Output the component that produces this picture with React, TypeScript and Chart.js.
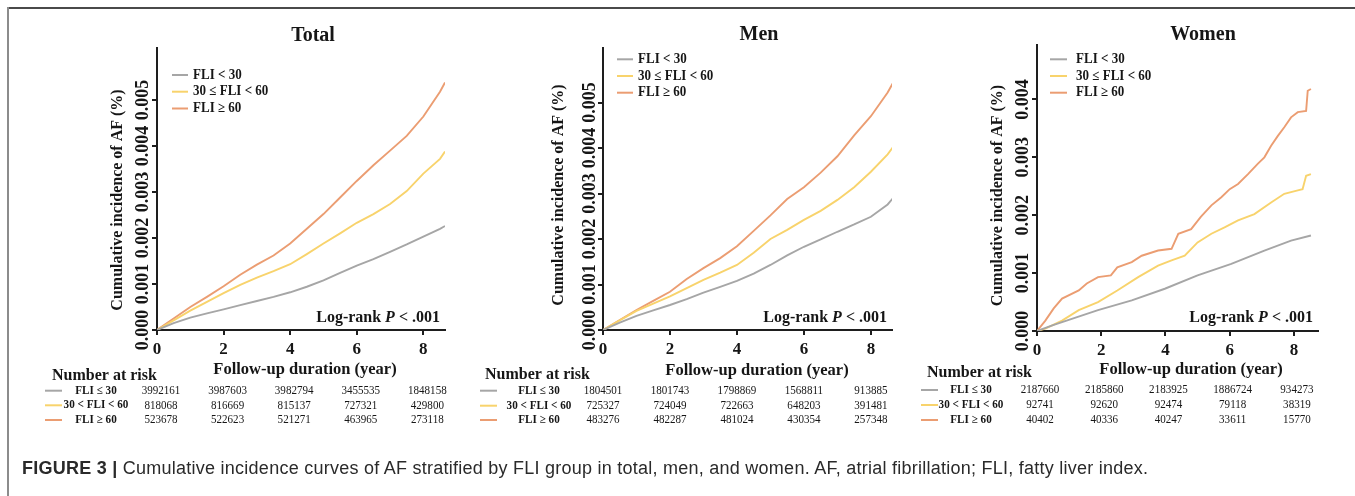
import React, { useEffect, useRef } from 'react';
import { Chart, registerables } from 'chart.js';

Chart.register(...registerables);

// ---------- data ----------
const GROUP_LABELS = ['FLI < 30', '30 ≤ FLI < 60', 'FLI ≥ 60'];
const RISK_LABELS = ['FLI ≤ 30', '30 < FLI < 60', 'FLI ≥ 60'];
const X_TICKS = [0, 2, 4, 6, 8];
const Y_TITLE = 'Cumulative incidence of AF (%)';
const X_TITLE = 'Follow-up duration (year)';
const RISK_TITLE = 'Number at risk';

// Total & Men: read every half year
const TIME_GRID = [0, 0.5, 1, 1.5, 2, 2.5, 3, 3.5, 4, 4.5, 5, 5.5, 6, 6.5, 7, 7.5, 8, 8.5, 8.65];

const totalLow = [0, 0.00015, 0.00027, 0.00036, 0.00045, 0.00054, 0.00063, 0.00072, 0.00082, 0.00094, 0.00108, 0.00124, 0.0014, 0.00154, 0.0017, 0.00186, 0.00203, 0.0022, 0.00226];
const totalMid = [0, 0.00021, 0.00042, 0.00061, 0.0008, 0.00098, 0.00114, 0.00128, 0.00143, 0.00165, 0.00188, 0.0021, 0.00233, 0.00252, 0.00274, 0.00302, 0.0034, 0.00372, 0.00388];
const totalHigh = [0, 0.00025, 0.0005, 0.00072, 0.00095, 0.0012, 0.00142, 0.00162, 0.00188, 0.0022, 0.00252, 0.00288, 0.00324, 0.00358, 0.0039, 0.00422, 0.00464, 0.00518, 0.00538];

const menLow = [0, 0.00016, 0.00031, 0.00043, 0.00055, 0.00068, 0.00082, 0.00095, 0.00108, 0.00124, 0.00143, 0.00164, 0.00183, 0.00199, 0.00216, 0.00232, 0.00249, 0.00276, 0.00289];
const menMid = [0, 0.00021, 0.00042, 0.00058, 0.00074, 0.00092, 0.0011, 0.00126, 0.00143, 0.0017, 0.002, 0.0022, 0.00242, 0.00262, 0.00286, 0.00314, 0.00348, 0.00386, 0.00401];
const menHigh = [0, 0.00022, 0.00044, 0.00064, 0.00084, 0.00112, 0.00136, 0.00158, 0.00184, 0.00218, 0.00252, 0.00288, 0.00314, 0.00346, 0.00382, 0.00428, 0.0047, 0.00522, 0.00542];

// Women: read at visible steps
const womenLowT = [0, 0.5, 0.78, 1.9, 2.95, 3.98, 5.0, 6.05, 7.08, 7.91, 8.53];
const womenLow = [0, 0.0001, 0.000155, 0.00036, 0.00053, 0.00073, 0.00096, 0.00116, 0.00139, 0.00156, 0.00165];
const womenMidT = [0, 0.26, 0.78, 1.3, 1.9, 2.5, 3.15, 3.77, 4.19, 4.6, 5.0, 5.43, 5.84, 6.26, 6.77, 7.29, 7.7, 8.12, 8.27, 8.38, 8.53];
const womenMid = [0, 0.00004, 0.00018, 0.00036, 0.0005, 0.0007, 0.00093, 0.00113, 0.00122, 0.0013, 0.00153, 0.00168, 0.00179, 0.00191, 0.00202, 0.00222, 0.00237, 0.00243, 0.00245, 0.00268, 0.00271];
const womenHighT = [0, 0.26, 0.52, 0.78, 1.3, 1.55, 1.9, 2.3, 2.5, 2.95, 3.26, 3.77, 4.19, 4.4, 4.8, 5.1, 5.43, 5.74, 6.0, 6.26, 6.57, 6.88, 7.08, 7.29, 7.5, 7.7, 7.91, 8.12, 8.38, 8.43, 8.53];
const womenHigh = [0, 0.00018, 0.00039, 0.00056, 0.0007, 0.00082, 0.00093, 0.00096, 0.0011, 0.00119, 0.0013, 0.00139, 0.00142, 0.00168, 0.00176, 0.00197, 0.00217, 0.00231, 0.00245, 0.00254, 0.00271, 0.00289, 0.003, 0.0032, 0.00337, 0.00352, 0.00369, 0.00378, 0.0038, 0.00415, 0.00418];

// Number at risk
const totalRiskLow = [3992161, 3987603, 3982794, 3455535, 1848158];
const totalRiskMid = [818068, 816669, 815137, 727321, 429800];
const totalRiskHigh = [523678, 522623, 521271, 463965, 273118];
const menRiskLow = [1804501, 1801743, 1798869, 1568811, 913885];
const menRiskMid = [725327, 724049, 722663, 648203, 391481];
const menRiskHigh = [483276, 482287, 481024, 430354, 257348];
const womenRiskLow = [2187660, 2185860, 2183925, 1886724, 934273];
const womenRiskMid = [92741, 92620, 92474, 79118, 38319];
const womenRiskHigh = [40402, 40336, 40247, 33611, 15770];

// ---------- styles ----------
const W = 1355;
const H = 496;
const SERIF = '"Liberation Serif", "Times New Roman", Times, serif';
const INK = '#161616';
const AXIS = '#1e1e1e';
const COLORS = ['#a6a6a6', '#f8d36c', '#eb9d72'];

type Panel = any;

const panels: Panel[] = [
  {
    key: 'total', title: 'Total',
    series: [
      { t: TIME_GRID, v: totalLow }, { t: TIME_GRID, v: totalMid }, { t: TIME_GRID, v: totalHigh },
    ],
    risk: [totalRiskLow, totalRiskMid, totalRiskHigh],
    xMax: 8.65, yMax: 0.00613, yTickMax: 0.005,
    area: { left: 157, top: 48, right: 445, bottom: 330 },
    titleX: 313, titleY: 36,
    legendX0: 172, legendX1: 188, legendTextX: 193, legendY: [75, 91.7, 108.5],
    yTickX: 143, yTitleX: 118, yTitleY: 200,
    xTitleX: 305, xTitleY: 370,
    logX: 440, logY: 318,
    riskHeadX: 52, riskHeadY: 376, riskRowY: [390.7, 405.3, 420], riskLabelX: 96, swatch: [45, 62], numOff: 4,
  },
  {
    key: 'men', title: 'Men',
    series: [
      { t: TIME_GRID, v: menLow }, { t: TIME_GRID, v: menMid }, { t: TIME_GRID, v: menHigh },
    ],
    risk: [menRiskLow, menRiskMid, menRiskHigh],
    xMax: 8.63, yMax: 0.0062, yTickMax: 0.005,
    area: { left: 603, top: 48, right: 892, bottom: 330 },
    titleX: 759, titleY: 35,
    legendX0: 617, legendX1: 633, legendTextX: 638, legendY: [59.3, 76, 92.7],
    yTickX: 590, yTitleX: 559, yTitleY: 195,
    xTitleX: 757, xTitleY: 371,
    logX: 887, logY: 318,
    riskHeadX: 485, riskHeadY: 375, riskRowY: [390.7, 405.7, 420], riskLabelX: 539, swatch: [480, 497], numOff: 0,
  },
  {
    key: 'women', title: 'Women',
    series: [
      { t: womenLowT, v: womenLow }, { t: womenMidT, v: womenMid }, { t: womenHighT, v: womenHigh },
    ],
    risk: [womenRiskLow, womenRiskMid, womenRiskHigh],
    xMax: 8.75, yMax: 0.00494, yTickMax: 0.004,
    area: { left: 1037, top: 45, right: 1318, bottom: 331 },
    titleX: 1203, titleY: 35,
    legendX0: 1050, legendX1: 1067, legendTextX: 1076, legendY: [59.3, 76, 92.7],
    yTickX: 1023, yTitleX: 998, yTitleY: 195.5,
    xTitleX: 1191, xTitleY: 369.5,
    logX: 1313, logY: 318,
    riskHeadX: 927, riskHeadY: 373, riskRowY: [390, 405, 420], riskLabelX: 971, swatch: [921, 938], numOff: 3,
  },
];

function drawScaled(ctx: CanvasRenderingContext2D, text: string, x: number, y: number, sx: number) {
  ctx.save();
  ctx.translate(x, y);
  ctx.scale(sx, 1);
  ctx.fillText(text, 0, 0);
  ctx.restore();
}

function drawRotated(ctx: CanvasRenderingContext2D, text: string, x: number, y: number) {
  ctx.save();
  ctx.translate(x, y);
  ctx.rotate(-Math.PI / 2);
  ctx.fillText(text, 0, 0);
  ctx.restore();
}

function makeTextPlugin(p: Panel) {
  return {
    id: 'panelText_' + p.key,
    afterDraw(chart: any) {
      const ctx: CanvasRenderingContext2D = chart.ctx;
      const xs = chart.scales.x;
      const ys = chart.scales.y;
      ctx.save();
      ctx.fillStyle = INK;
      ctx.textBaseline = 'middle';

      // title
      ctx.textAlign = 'center';
      ctx.font = `bold 20px ${SERIF}`;
      ctx.fillText(p.title, p.titleX, p.titleY);

      // y tick labels (rotated)
      ctx.font = `bold 18px ${SERIF}`;
      ys.ticks.forEach((t: any) => {
        drawRotated(ctx, t.value.toFixed(3), p.yTickX, ys.getPixelForValue(t.value));
      });

      // axis titles
      ctx.font = `bold 16px ${SERIF}`;
      drawRotated(ctx, Y_TITLE, p.yTitleX, p.yTitleY);
      ctx.font = `bold 16.5px ${SERIF}`;
      ctx.fillText(X_TITLE, p.xTitleX, p.xTitleY);

      // legend
      ctx.textAlign = 'left';
      ctx.font = `bold 14px ${SERIF}`;
      GROUP_LABELS.forEach((lab, i) => {
        const y = p.legendY[i];
        ctx.strokeStyle = COLORS[i];
        ctx.lineWidth = 2;
        ctx.beginPath();
        ctx.moveTo(p.legendX0, y);
        ctx.lineTo(p.legendX1, y);
        ctx.stroke();
        drawScaled(ctx, lab, p.legendTextX, y, 0.93);
      });

      // log-rank
      const parts: [string, string][] = [
        ['Log-rank ', `bold 16px ${SERIF}`],
        ['P', `italic bold 16px ${SERIF}`],
        [' < .001', `bold 16px ${SERIF}`],
      ];
      let total = 0;
      parts.forEach(([s, f]) => { ctx.font = f; total += ctx.measureText(s).width; });
      let lx = p.logX - total;
      parts.forEach(([s, f]) => {
        ctx.font = f;
        ctx.fillText(s, lx, p.logY);
        lx += ctx.measureText(s).width;
      });

      // number at risk
      ctx.font = `bold 16px ${SERIF}`;
      ctx.fillText(RISK_TITLE, p.riskHeadX, p.riskHeadY);
      RISK_LABELS.forEach((lab, i) => {
        const y = p.riskRowY[i];
        ctx.strokeStyle = COLORS[i];
        ctx.lineWidth = 2;
        ctx.beginPath();
        ctx.moveTo(p.swatch[0], y);
        ctx.lineTo(p.swatch[1], y);
        ctx.stroke();
        ctx.textAlign = 'center';
        ctx.font = `bold 12px ${SERIF}`;
        drawScaled(ctx, lab, p.riskLabelX, y, 0.93);
        ctx.font = `13px ${SERIF}`;
        p.risk[i].forEach((n: number, j: number) => {
          drawScaled(ctx, String(n), xs.getPixelForValue(X_TICKS[j]) + p.numOff, y, 0.85);
        });
        ctx.textAlign = 'left';
      });
      ctx.restore();
    },
  };
}

function PanelChart({ p }: { p: Panel }) {
  const ref = useRef<HTMLCanvasElement>(null);
  useEffect(() => {
    const canvas = ref.current;
    if (!canvas) return;
    const axisGrid = { drawOnChartArea: false, drawTicks: true, tickLength: 5, color: AXIS, lineWidth: 2 };
    const axisBorder = { display: true, color: AXIS, width: 2 };
    const chart = new Chart(canvas, {
      type: 'line',
      data: {
        datasets: p.series.map((s: any, i: number) => ({
          label: GROUP_LABELS[i],
          data: s.t.map((t: number, k: number) => ({ x: t, y: s.v[k] })),
          borderColor: COLORS[i],
          backgroundColor: COLORS[i],
          borderWidth: 1.9,
          pointRadius: 0,
          tension: 0,
          fill: false,
        })),
      },
      options: {
        animation: false,
        responsive: false,
        devicePixelRatio: 1,
        events: [],
        layout: { padding: { left: 0, top: p.area.top, right: W - p.area.right, bottom: 0 } },
        plugins: { legend: { display: false }, tooltip: { enabled: false }, title: { display: false } },
        scales: {
          x: {
            type: 'linear',
            min: 0,
            max: p.xMax,
            afterFit: (s: any) => { s.height = H - p.area.bottom; },
            ticks: {
              stepSize: 2,
              includeBounds: false,
              maxRotation: 0,
              padding: 4,
              color: INK,
              font: { family: SERIF, size: 17, weight: 'bold' },
              callback: (v: any) => String(v),
            },
            grid: axisGrid,
            border: axisBorder,
          },
          y: {
            type: 'linear',
            min: 0,
            max: p.yMax,
            afterFit: (s: any) => { s.width = p.area.left; },
            afterBuildTicks: (s: any) => { s.ticks = s.ticks.filter((t: any) => t.value <= p.yTickMax + 1e-9); },
            ticks: { display: false, stepSize: 0.001, includeBounds: false },
            grid: axisGrid,
            border: axisBorder,
          },
        },
      },
      plugins: [makeTextPlugin(p)],
    } as any);
    return () => chart.destroy();
  }, [p]);
  return (
    <canvas
      ref={ref}
      width={W}
      height={H}
      style={{ position: 'absolute', left: 0, top: 0, width: W, height: H }}
    />
  );
}

export default function App() {
  return (
    <div style={{ position: 'absolute', left: 0, top: 0, width: W, height: H, background: '#fff', overflow: 'hidden' }}>
      <div style={{ position: 'absolute', left: 7, top: 7, width: W - 7, height: 2, background: '#4a4a4a' }} />
      <div style={{ position: 'absolute', left: 7, top: 7, width: 2, height: H - 7, background: '#8c8c8c' }} />
      {panels.map((p) => (
        <PanelChart key={p.key} p={p} />
      ))}
      <div
        style={{
          position: 'absolute',
          left: 22,
          top: 457,
          fontFamily: '"Liberation Sans Narrow", "Arial Narrow", "Liberation Sans", Arial, sans-serif',
          fontSize: 18,
          letterSpacing: '0.25px',
          lineHeight: '22px',
          color: '#2a2a2a',
          whiteSpace: 'nowrap',
        }}
      >
        <span style={{ fontWeight: 700 }}>FIGURE 3 |</span> Cumulative incidence curves of AF stratified by FLI group in total, men, and women. AF, atrial fibrillation; FLI, fatty liver index.
      </div>
    </div>
  );
}
